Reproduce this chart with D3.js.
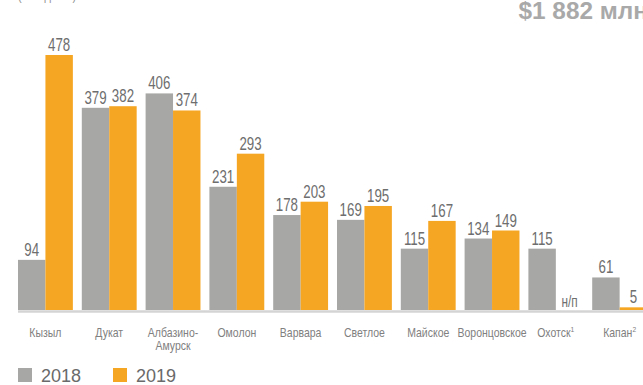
<!DOCTYPE html>
<html>
<head>
<meta charset="utf-8">
<script src="https://cdn.jsdelivr.net/npm/d3@7"></script>
<style>
  html, body { margin: 0; padding: 0; background: #fff; }
  svg { display: block; }
</style>
</head>
<body>
<svg id="chart" width="643" height="385"></svg>
<script>
// Revenue by operation, 2018 vs 2019 (US$ mn)
const categories = ["Кызыл", "Дукат", "Албазино-Амурск", "Омолон", "Варвара", "Светлое", "Майское", "Воронцовское", "Охотск", "Капан"];
const categoryLines = [["Кызыл"], ["Дукат"], ["Албазино-", "Амурск"], ["Омолон"], ["Варвара"], ["Светлое"], ["Майское"], ["Воронцовское"], ["Охотск"], ["Капан"]];
const footnoteMarks = ["", "", "", "", "", "", "", "", "1", "2"];
const series = ["2018", "2019"];
const values2018 = [94, 379, 406, 231, 178, 169, 115, 134, 115, 61];
const values2019 = [478, 382, 374, 293, 203, 195, 167, 149, null, 5];
const notAvailable = "н/п";
const totalLabel = "$1 882 млн";
const unitLabel = "(млн долл.)";

const colors = { "2018": "#a7a7a6", "2019": "#f5a623" };
const sans = "'Liberation Sans', Arial, sans-serif";

const svg = d3.select("#chart");
const baseY = 310;

// condensed text: Liberation Sans squeezed horizontally around its anchor
function narrowText(g, px, py, sx) {
  return g.append("text")
    .attr("transform", `translate(${px},${py}) scale(${sx},1)`)
    .attr("font-family", sans);
}

const x = d3.scaleBand()
  .domain(categories)
  .range([18, 18 + 63.8 * 9.86])
  .paddingInner(0.14)
  .paddingOuter(0)
  .align(0);

const xs = d3.scaleBand().domain(series).range([0, x.bandwidth()]).padding(0);

const y = d3.scaleLinear().domain([0, 478]).range([baseY, 55]);

const rows = [];
categories.forEach((c, i) => {
  rows.push({ cat: c, s: "2018", v: values2018[i] });
  rows.push({ cat: c, s: "2019", v: values2019[i] });
});

// baseline
svg.append("line")
  .attr("x1", 18).attr("x2", 643)
  .attr("y1", baseY + 1.5).attr("y2", baseY + 1.5)
  .attr("stroke", "#d4d4d4").attr("stroke-width", 2.5);

// bars
svg.append("g").selectAll("rect")
  .data(rows.filter(d => d.v !== null))
  .join("rect")
  .attr("x", d => x(d.cat) + xs(d.s))
  .attr("y", d => y(d.v))
  .attr("width", xs.bandwidth())
  .attr("height", d => baseY - y(d.v))
  .attr("fill", d => colors[d.s]);

// value labels
const valG = svg.append("g");
rows.forEach(d => {
  const cx = x(d.cat) + xs(d.s) + xs.bandwidth() / 2;
  const na = d.v === null;
  narrowText(valG, cx, na ? baseY - 3 : y(d.v) - 4, 0.74)
    .attr("text-anchor", "middle")
    .attr("font-size", na ? 16 : 18)
    .attr("fill", "#6e6e6e")
    .text(na ? notAvailable : d.v);
});

// category labels
const catG = svg.append("g");
categories.forEach((c, i) => {
  const cx = x(c) + x.bandwidth() / 2;
  categoryLines[i].forEach((ln, j) => {
    const t = narrowText(catG, cx, 337 + j * 13, 0.84)
      .attr("text-anchor", "middle")
      .attr("font-size", 12.5)
      .attr("fill", "#808080");
    t.append("tspan").text(ln);
    if (footnoteMarks[i]) {
      t.append("tspan").attr("dy", -5).attr("font-size", 8).text(footnoteMarks[i]);
    }
  });
});

// legend
const legend = svg.append("g");
series.forEach((s, i) => {
  const lx = 18 + i * 95;
  legend.append("rect")
    .attr("x", lx).attr("y", 368)
    .attr("width", 14).attr("height", 14)
    .attr("fill", colors[s]);
  legend.append("text")
    .attr("x", lx + 23).attr("y", 382)
    .attr("font-family", sans)
    .attr("font-size", 18)
    .attr("fill", "#6a6a6a")
    .text(s);
});

// total
narrowText(svg, 648, 19, 1.06)
  .attr("text-anchor", "end")
  .attr("font-weight", "bold")
  .attr("font-size", 23)
  .attr("fill", "#a9a9a9")
  .text(totalLabel);

// unit caption
narrowText(svg, 18, 0, 0.84)
  .attr("font-size", 13)
  .attr("fill", "#909090")
  .text(unitLabel);
</script>
</body>
</html>
